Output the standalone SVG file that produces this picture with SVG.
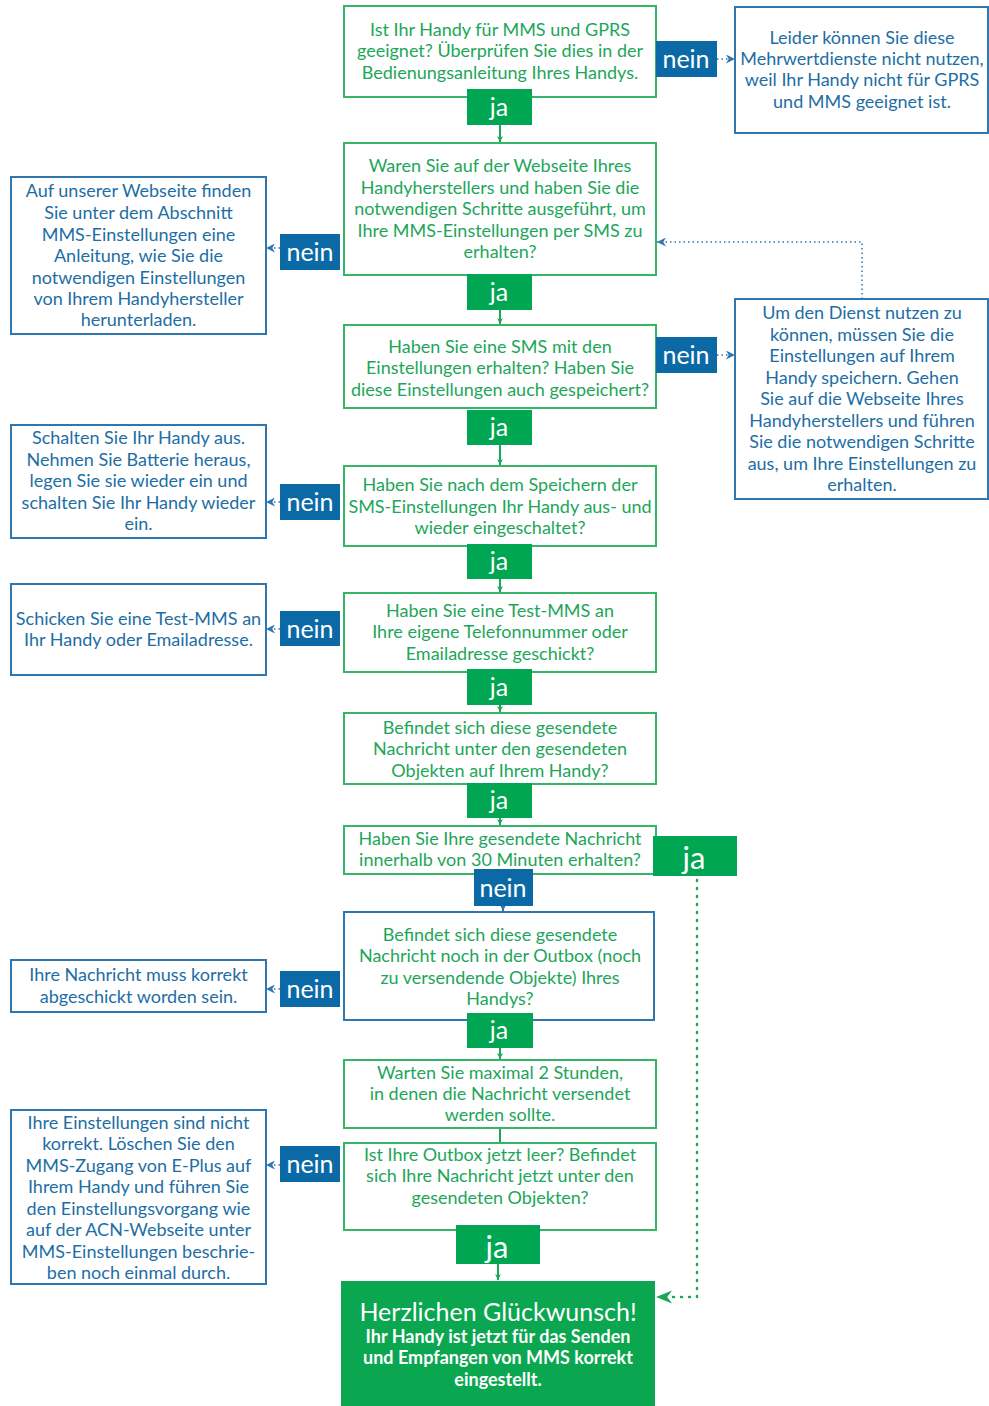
<svg xmlns="http://www.w3.org/2000/svg" width="989" height="1406" viewBox="0 0 989 1406">
<style>
text{font-family:Lato,"Open Sans","DejaVu Sans",sans-serif;text-anchor:middle}
.gb{fill:#fff;stroke:#35b567;stroke-width:2}
.bb{fill:#fff;stroke:#2f77ae;stroke-width:2}
.gt{fill:#1da65a;font-size:18px}
.bt{fill:#1d6ea5;font-size:18px}
.ja{fill:#00a651}
.nein{fill:#0b6aa6}
.lt{fill:#fff;font-size:25px}
.big{fill:#fff;font-size:31px}
.wt{fill:#fff;font-size:18px;font-weight:bold}
.gl{stroke:#1da65a;stroke-width:2;fill:none}
.bl{stroke:#2f77ae;stroke-width:1.5;fill:none;stroke-dasharray:1.5 3}
.gd{stroke:#1da65a;stroke-width:2.5;fill:none;stroke-dasharray:1 7;stroke-linecap:round}
</style>
<defs>
<marker id="ag" viewBox="0 0 10 10" refX="10" refY="5" markerWidth="6" markerHeight="6" orient="auto" markerUnits="userSpaceOnUse"><path d="M0,0 L10,5 L0,10 L3,5 z" fill="#1da65a"/></marker>
<marker id="ab" viewBox="0 0 10 10" refX="10" refY="5" markerWidth="9" markerHeight="9" orient="auto" markerUnits="userSpaceOnUse"><path d="M0,0 L10,5 L0,10 L3,5 z" fill="#2f77ae"/></marker>
<marker id="agb" viewBox="0 0 10 10" refX="10" refY="5" markerWidth="16" markerHeight="16" orient="auto" markerUnits="userSpaceOnUse"><path d="M0,1 L10,5 L0,9 L3,5 z" fill="#1da65a"/></marker>
</defs>

<g id="connectors">
<line class="gl" x1="500" y1="125" x2="500" y2="142" marker-end="url(#ag)"/>
<line class="gl" x1="500" y1="310" x2="500" y2="324" marker-end="url(#ag)"/>
<line class="gl" x1="500" y1="445" x2="500" y2="465" marker-end="url(#ag)"/>
<line class="gl" x1="500" y1="579" x2="500" y2="592" marker-end="url(#ag)"/>
<line class="gl" x1="500" y1="705" x2="500" y2="712" marker-end="url(#ag)"/>
<line class="gl" x1="500" y1="818" x2="500" y2="825" marker-end="url(#ag)"/>
<line x1="503" y1="906" x2="503" y2="911" stroke="#2f77ae" stroke-width="2" marker-end="url(#ab)"/>
<line class="gl" x1="500" y1="1048" x2="500" y2="1059" marker-end="url(#ag)"/>
<line class="gl" x1="500" y1="1128" x2="500" y2="1143"/>
<line class="gl" x1="498" y1="1264" x2="498" y2="1280" marker-end="url(#ag)"/>
<line class="bl" x1="717" y1="59" x2="735" y2="59" marker-end="url(#ab)"/>
<line class="bl" x1="717" y1="355" x2="735" y2="355" marker-end="url(#ab)"/>
<line class="bl" x1="280" y1="248" x2="266" y2="248" marker-end="url(#ab)"/>
<line class="bl" x1="280" y1="502" x2="266" y2="502" marker-end="url(#ab)"/>
<line class="bl" x1="280" y1="629" x2="266" y2="629" marker-end="url(#ab)"/>
<line class="bl" x1="280" y1="989" x2="266" y2="989" marker-end="url(#ab)"/>
<line class="bl" x1="280" y1="1165" x2="266" y2="1165" marker-end="url(#ab)"/>
<polyline class="bl" points="862,299 862,242 657,242" marker-end="url(#ab)"/>
<polyline class="gd" points="697,880 697,1297 670,1297"/>
<line x1="670" y1="1297" x2="656" y2="1297" stroke="#1da65a" stroke-width="1" stroke-opacity="0" marker-end="url(#agb)"/>
</g>

<g id="q1"><rect class="gb" x="344" y="6" width="312" height="91"/>
<text class="gt" x="500" y="36">Ist Ihr Handy für MMS und GPRS</text>
<text class="gt" x="500" y="57">geeignet? Überprüfen Sie dies in der</text>
<text class="gt" x="500" y="79">Bedienungsanleitung Ihres Handys.</text></g>
<g id="ja1"><rect class="ja" x="467" y="89" width="65" height="36"/><text class="lt" x="499" y="116">ja</text></g>
<g id="nein1"><rect class="nein" x="656" y="41" width="61" height="36"/><text class="lt" x="686" y="68">nein</text></g>
<g id="r1"><rect class="bb" x="735" y="7" width="253" height="126"/>
<text class="bt" x="862" y="44">Leider können Sie diese</text>
<text class="bt" x="862" y="65">Mehrwertdienste nicht nutzen,</text>
<text class="bt" x="862" y="86">weil Ihr Handy nicht für GPRS</text>
<text class="bt" x="862" y="108">und MMS geeignet ist.</text></g>

<g id="q2"><rect class="gb" x="344" y="143" width="312" height="132"/>
<text class="gt" x="500" y="172">Waren Sie auf der Webseite Ihres</text>
<text class="gt" x="500" y="194">Handyherstellers und haben Sie die</text>
<text class="gt" x="500" y="215">notwendigen Schritte ausgeführt, um</text>
<text class="gt" x="500" y="237">Ihre MMS-Einstellungen per SMS zu</text>
<text class="gt" x="500" y="258">erhalten?</text></g>
<g id="ja2"><rect class="ja" x="467" y="274" width="65" height="36"/><text class="lt" x="499" y="301">ja</text></g>
<g id="nein2"><rect class="nein" x="280" y="234" width="60" height="36"/><text class="lt" x="310" y="261">nein</text></g>
<g id="l1"><rect class="bb" x="11" y="177" width="255" height="157"/>
<text class="bt" x="138.5" y="197">Auf unserer Webseite finden</text>
<text class="bt" x="138.5" y="219">Sie unter dem Abschnitt</text>
<text class="bt" x="138.5" y="241">MMS-Einstellungen eine</text>
<text class="bt" x="138.5" y="262">Anleitung, wie Sie die</text>
<text class="bt" x="138.5" y="284">notwendigen Einstellungen</text>
<text class="bt" x="138.5" y="305">von Ihrem Handyhersteller</text>
<text class="bt" x="138.5" y="326">herunterladen.</text></g>

<g id="q3"><rect class="gb" x="344" y="325" width="312" height="83"/>
<text class="gt" x="500" y="353">Haben Sie eine SMS mit den</text>
<text class="gt" x="500" y="374">Einstellungen erhalten? Haben Sie</text>
<text class="gt" x="500" y="396">diese Einstellungen auch gespeichert?</text></g>
<g id="nein3"><rect class="nein" x="656" y="337" width="61" height="36"/><text class="lt" x="686" y="364">nein</text></g>
<g id="r2"><rect class="bb" x="735" y="299" width="253" height="200"/>
<text class="bt" x="862" y="319">Um den Dienst nutzen zu</text>
<text class="bt" x="862" y="341">können, müssen Sie die</text>
<text class="bt" x="862" y="362">Einstellungen auf Ihrem</text>
<text class="bt" x="862" y="384">Handy speichern. Gehen</text>
<text class="bt" x="862" y="405">Sie auf die Webseite Ihres</text>
<text class="bt" x="862" y="427">Handyherstellers und führen</text>
<text class="bt" x="862" y="448">Sie die notwendigen Schritte</text>
<text class="bt" x="862" y="470">aus, um Ihre Einstellungen zu</text>
<text class="bt" x="862" y="491">erhalten.</text></g>
<g id="ja3"><rect class="ja" x="467" y="410" width="65" height="35"/><text class="lt" x="499" y="436">ja</text></g>

<g id="q4"><rect class="gb" x="344" y="466" width="312" height="80"/>
<text class="gt" x="500" y="491">Haben Sie nach dem Speichern der</text>
<text class="gt" x="500" y="513">SMS-Einstellungen Ihr Handy aus- und</text>
<text class="gt" x="500" y="534">wieder eingeschaltet?</text></g>
<g id="nein4"><rect class="nein" x="280" y="484" width="60" height="36"/><text class="lt" x="310" y="511">nein</text></g>
<g id="l2"><rect class="bb" x="11" y="425" width="255" height="113"/>
<text class="bt" x="138.5" y="444">Schalten Sie Ihr Handy aus.</text>
<text class="bt" x="138.5" y="466">Nehmen Sie Batterie heraus,</text>
<text class="bt" x="138.5" y="487">legen Sie sie wieder ein und</text>
<text class="bt" x="138.5" y="509">schalten Sie Ihr Handy wieder</text>
<text class="bt" x="138.5" y="530">ein.</text></g>
<g id="ja4"><rect class="ja" x="467" y="544" width="65" height="35"/><text class="lt" x="499" y="570">ja</text></g>

<g id="q5"><rect class="gb" x="344" y="593" width="312" height="79"/>
<text class="gt" x="500" y="617">Haben Sie eine Test-MMS an</text>
<text class="gt" x="500" y="638">Ihre eigene Telefonnummer oder</text>
<text class="gt" x="500" y="660">Emailadresse geschickt?</text></g>
<g id="nein5"><rect class="nein" x="280" y="611" width="60" height="35"/><text class="lt" x="310" y="638">nein</text></g>
<g id="l3"><rect class="bb" x="11" y="584" width="255" height="91"/>
<text class="bt" x="138.5" y="625">Schicken Sie eine Test-MMS an</text>
<text class="bt" x="138.5" y="646">Ihr Handy oder Emailadresse.</text></g>
<g id="ja5"><rect class="ja" x="467" y="669" width="65" height="36"/><text class="lt" x="499" y="696">ja</text></g>

<g id="q6"><rect class="gb" x="344" y="713" width="312" height="71"/>
<text class="gt" x="500" y="734">Befindet sich diese gesendete</text>
<text class="gt" x="500" y="755">Nachricht unter den gesendeten</text>
<text class="gt" x="500" y="777">Objekten auf Ihrem Handy?</text></g>
<g id="ja6"><rect class="ja" x="467" y="783" width="65" height="35"/><text class="lt" x="499" y="809">ja</text></g>

<g id="q7"><rect class="gb" x="344" y="826" width="312" height="48"/>
<text class="gt" x="500" y="845">Haben Sie Ihre gesendete Nachricht</text>
<text class="gt" x="500" y="866">innerhalb von 30 Minuten erhalten?</text></g>
<g id="ja7"><rect class="ja" x="653" y="836" width="84" height="40"/><text class="big" x="694" y="869">ja</text></g>
<g id="nein7"><rect class="nein" x="474" y="869" width="59" height="37"/><text class="lt" x="503" y="897">nein</text></g>

<g id="q8"><rect class="bb" x="344" y="912" width="310" height="108"/>
<text class="gt" x="500" y="941">Befindet sich diese gesendete</text>
<text class="gt" x="500" y="962">Nachricht noch in der Outbox (noch</text>
<text class="gt" x="500" y="984">zu versendende Objekte) Ihres</text>
<text class="gt" x="500" y="1005">Handys?</text></g>
<g id="nein8"><rect class="nein" x="280" y="971" width="60" height="36"/><text class="lt" x="310" y="998">nein</text></g>
<g id="l4"><rect class="bb" x="11" y="960" width="255" height="52"/>
<text class="bt" x="138.5" y="981">Ihre Nachricht muss korrekt</text>
<text class="bt" x="138.5" y="1003">abgeschickt worden sein.</text></g>
<g id="ja8"><rect class="ja" x="467" y="1013" width="66" height="35"/><text class="lt" x="499" y="1039">ja</text></g>

<g id="s9"><rect class="gb" x="344" y="1060" width="312" height="68"/>
<text class="gt" x="500" y="1079">Warten Sie maximal 2 Stunden,</text>
<text class="gt" x="500" y="1100">in denen die Nachricht versendet</text>
<text class="gt" x="500" y="1121">werden sollte.</text></g>

<g id="q10"><rect class="gb" x="344" y="1143" width="312" height="87"/>
<text class="gt" x="500" y="1161">Ist Ihre Outbox jetzt leer? Befindet</text>
<text class="gt" x="500" y="1182">sich Ihre Nachricht jetzt unter den</text>
<text class="gt" x="500" y="1204">gesendeten Objekten?</text></g>
<g id="nein10"><rect class="nein" x="280" y="1146" width="60" height="36"/><text class="lt" x="310" y="1173">nein</text></g>
<g id="l5"><rect class="bb" x="11" y="1110" width="255" height="174"/>
<text class="bt" x="138.5" y="1129">Ihre Einstellungen sind nicht</text>
<text class="bt" x="138.5" y="1150">korrekt. Löschen Sie den</text>
<text class="bt" x="138.5" y="1172">MMS-Zugang von E-Plus auf</text>
<text class="bt" x="138.5" y="1193">Ihrem Handy und führen Sie</text>
<text class="bt" x="138.5" y="1215">den Einstellungsvorgang wie</text>
<text class="bt" x="138.5" y="1236">auf der ACN-Webseite unter</text>
<text class="bt" x="138.5" y="1258">MMS-Einstellungen beschrie-</text>
<text class="bt" x="138.5" y="1279">ben noch einmal durch.</text></g>
<g id="ja10"><rect class="ja" x="456" y="1225" width="84" height="39"/><text class="big" x="497" y="1258">ja</text></g>

<g id="final"><rect fill="#0aa650" x="341" y="1281" width="314" height="125"/>
<text fill="#fff" font-size="25" x="498" y="1321">Herzlichen Glückwunsch!</text>
<text class="wt" x="498" y="1343">Ihr Handy ist jetzt für das Senden</text>
<text class="wt" x="498" y="1364">und Empfangen von MMS korrekt</text>
<text class="wt" x="498" y="1386">eingestellt.</text></g>
</svg>
